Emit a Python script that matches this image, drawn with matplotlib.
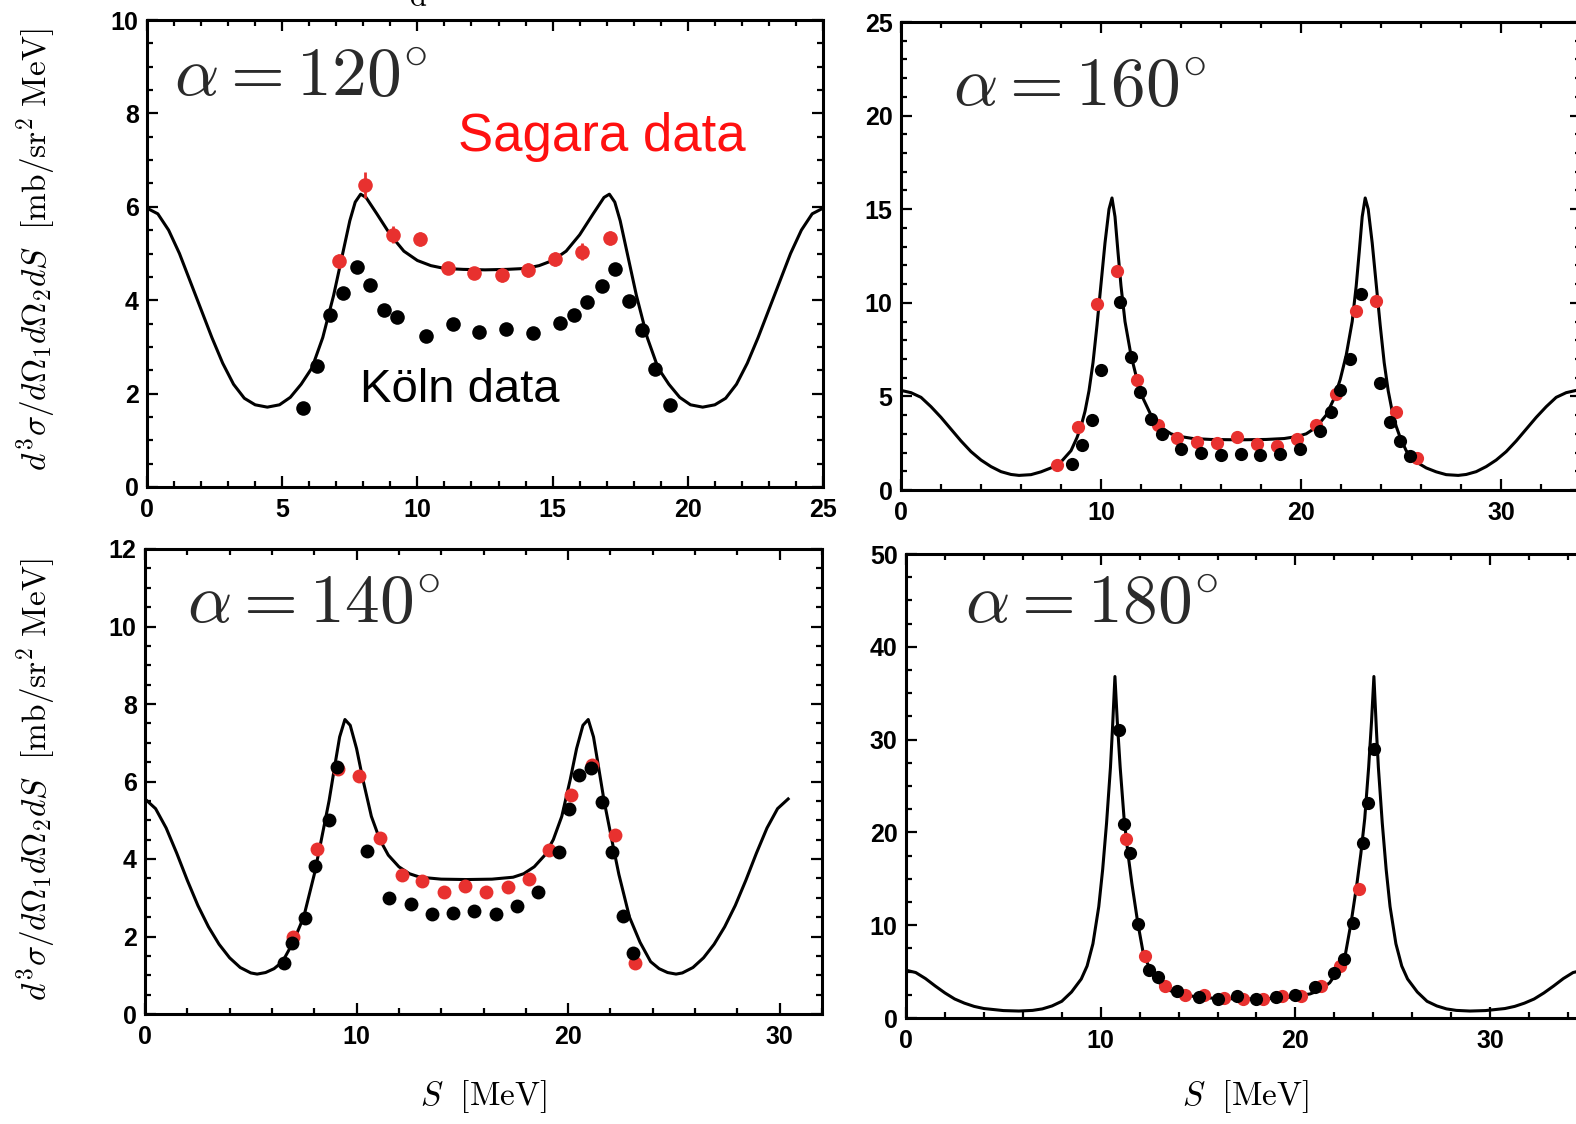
import matplotlib
matplotlib.use("Agg")
import matplotlib.pyplot as plt
from matplotlib.ticker import MultipleLocator

plt.rcParams['mathtext.fontset'] = 'cm'
plt.rcParams['font.family'] = ['Liberation Sans', 'DejaVu Sans']

RED = '#e8312f'

# ---- alpha = 120 deg ----
th120_s = [0.0, 0.4, 0.8, 1.2, 1.6, 2.0, 2.4, 2.8, 3.2, 3.6, 4.0, 4.45, 4.9, 5.3, 5.7, 6.1,
           6.5, 6.9, 7.2, 7.5, 7.7, 7.9, 8.1, 8.5, 9.0, 9.5, 10.0, 10.5, 11.0, 11.7, 12.5,
           13.3, 14.0, 14.5, 15.0, 15.5, 16.0, 16.5, 16.9, 17.1, 17.3, 17.5, 17.8, 18.1,
           18.5, 18.9, 19.3, 19.7, 20.1, 20.55, 21.0, 21.4, 21.8, 22.2, 22.6, 23.0, 23.4,
           23.8, 24.2, 24.6, 25.0]
th120_y = [5.97, 5.85, 5.5, 5.0, 4.4, 3.8, 3.2, 2.65, 2.2, 1.9, 1.76, 1.71, 1.76, 1.92, 2.2,
           2.55, 3.2, 4.1, 4.9, 5.7, 6.1, 6.27, 6.2, 5.85, 5.4, 5.05, 4.85, 4.74, 4.68, 4.66,
           4.65, 4.66, 4.68, 4.74, 4.85, 5.05, 5.4, 5.85, 6.2, 6.27, 6.1, 5.7, 4.9, 4.1, 3.2,
           2.55, 2.2, 1.92, 1.76, 1.71, 1.76, 1.9, 2.2, 2.65, 3.2, 3.8, 4.4, 5.0, 5.5, 5.85,
           5.97]
koln120_s = [5.78, 6.27, 6.77, 7.26, 7.75, 8.24, 8.77, 9.26, 10.30, 11.31, 12.27, 13.28,
             14.29, 15.27, 15.80, 16.29, 16.81, 17.32, 17.82, 18.31, 18.80, 19.33]
koln120_y = [1.70, 2.59, 3.69, 4.15, 4.71, 4.33, 3.78, 3.64, 3.23, 3.49, 3.32, 3.39,
             3.30, 3.51, 3.68, 3.96, 4.31, 4.67, 3.98, 3.37, 2.52, 1.75]
sag120_s = [7.09, 8.08, 9.10, 10.08, 11.12, 12.10, 13.12, 14.10, 15.09, 16.09, 17.11]
sag120_y = [4.83, 6.46, 5.40, 5.31, 4.69, 4.58, 4.55, 4.64, 4.88, 5.04, 5.34]
sag120_e = [0.15, 0.28, 0.18, 0.15, 0.12, 0.12, 0.15, 0.15, 0.15, 0.18, 0.15]

# ---- alpha = 160 deg ----
th160_s = [0.0, 0.5, 1.0, 1.5, 2.0, 2.5, 3.0, 3.5, 4.0, 4.5, 5.0, 5.5, 5.9, 6.5, 7.0, 7.5,
           8.0, 8.5, 8.8, 9.0, 9.2, 9.4, 9.6, 9.8, 10.0, 10.2, 10.4, 10.55, 10.7, 10.85,
           11.0, 11.2, 11.5, 11.8, 12.1, 12.5, 13.0, 13.5, 14.0, 14.6, 15.5, 16.88, 18.26,
           19.16, 19.76, 20.26, 20.76, 21.26, 21.66, 21.96, 22.26, 22.56, 22.76, 22.91,
           23.06, 23.21, 23.36, 23.56, 23.76, 23.96, 24.16, 24.36, 24.56, 24.76, 24.96,
           25.26, 25.76, 26.26, 26.76, 27.26, 27.86, 28.26, 28.76, 29.26, 29.76, 30.26,
           30.76, 31.26, 31.76, 32.26, 32.76, 33.26, 33.76, 34.1]
th160_y = [5.32, 5.2, 4.95, 4.45, 3.88, 3.25, 2.62, 2.05, 1.6, 1.25, 0.98, 0.83, 0.78, 0.82,
           0.97, 1.18, 1.5, 2.1, 2.8, 3.4, 4.2, 5.3, 6.8, 8.8, 11.0, 13.2, 15.0, 15.6, 14.6,
           12.7, 10.9, 9.0, 7.2, 5.9, 4.9, 4.0, 3.35, 3.0, 2.85, 2.75, 2.7, 2.68, 2.7, 2.75,
           2.85, 3.0, 3.35, 4.0, 4.9, 5.9, 7.2, 9.0, 10.9, 12.7, 14.6, 15.6, 15.0, 13.2,
           11.0, 8.8, 6.8, 5.3, 4.2, 3.4, 2.8, 2.1, 1.5, 1.18, 0.97, 0.82, 0.78, 0.83, 0.98,
           1.25, 1.6, 2.05, 2.62, 3.25, 3.88, 4.45, 4.95, 5.2, 5.32, 5.3]
koln160_s = [8.53, 9.05, 9.53, 10.0, 10.97, 11.49, 11.97, 12.51, 13.03, 13.98, 14.98,
             15.99, 16.99, 17.96, 18.96, 19.95, 20.97, 21.49, 21.97, 22.46, 22.99, 23.93,
             24.45, 24.95, 25.47]
koln160_y = [1.39, 2.40, 3.74, 6.41, 10.02, 7.13, 5.23, 3.79, 2.98, 2.17, 1.99, 1.86,
             1.90, 1.86, 1.90, 2.20, 3.16, 4.15, 5.32, 6.99, 10.47, 5.72, 3.61, 2.62, 1.81]
sag160_s = [7.82, 8.84, 9.79, 10.81, 11.80, 12.84, 13.82, 14.81, 15.81, 16.80, 17.80,
            18.79, 19.79, 20.73, 21.75, 22.75, 23.77, 24.76, 25.78]
sag160_y = [1.35, 3.38, 9.93, 11.68, 5.90, 3.48, 2.80, 2.58, 2.53, 2.83, 2.47, 2.35,
            2.71, 3.48, 5.11, 9.57, 10.11, 4.15, 1.71]

# ---- alpha = 140 deg ----
th140_s = [0.0, 0.5, 1.0, 1.5, 2.0, 2.5, 3.0, 3.5, 4.0, 4.5, 5.0, 5.3, 5.7, 6.1, 6.5, 7.0,
           7.5, 8.0, 8.3, 8.7, 9.0, 9.2, 9.45, 9.7, 10.0, 10.3, 10.7, 11.1, 11.5, 12.0,
           12.5, 13.0, 14.0, 15.2, 16.4, 17.4, 17.9, 18.4, 18.9, 19.3, 19.7, 20.1, 20.4,
           20.7, 20.95, 21.2, 21.4, 21.7, 22.1, 22.4, 22.9, 23.4, 23.9, 24.3, 24.7, 25.1,
           25.4, 25.9, 26.4, 26.9, 27.4, 27.9, 28.4, 28.9, 29.4, 29.9, 30.4]
th140_y = [5.55, 5.3, 4.8, 4.15, 3.45, 2.8, 2.25, 1.8, 1.45, 1.2, 1.06, 1.03, 1.07, 1.17,
           1.35, 1.85, 2.5, 3.6, 4.4, 5.5, 6.5, 7.15, 7.6, 7.45, 6.85, 6.05, 5.1, 4.5, 4.1,
           3.8, 3.62, 3.53, 3.48, 3.47, 3.48, 3.53, 3.62, 3.8, 4.1, 4.5, 5.1, 6.05, 6.85,
           7.45, 7.6, 7.15, 6.5, 5.5, 4.4, 3.6, 2.5, 1.85, 1.35, 1.17, 1.07, 1.03, 1.06,
           1.2, 1.45, 1.8, 2.25, 2.8, 3.45, 4.15, 4.8, 5.3, 5.55]
koln140_s = [6.58, 6.93, 7.54, 8.04, 8.68, 9.06, 10.50, 11.54, 12.55, 13.56, 14.57, 15.56,
             16.57, 17.58, 18.59, 19.55, 20.06, 20.52, 21.07, 21.58, 22.08, 22.59, 23.05]
koln140_y = [1.31, 1.84, 2.48, 3.83, 5.00, 6.38, 4.20, 3.00, 2.83, 2.58, 2.61, 2.65,
             2.58, 2.78, 3.14, 4.18, 5.28, 6.18, 6.34, 5.48, 4.17, 2.53, 1.57]
sag140_s = [6.98, 8.12, 9.10, 10.12, 11.13, 12.14, 13.10, 14.12, 15.13, 16.14, 17.15,
            18.16, 19.10, 20.14, 21.12, 22.21, 23.15]
sag140_y = [1.99, 4.25, 6.31, 6.14, 4.54, 3.58, 3.42, 3.14, 3.30, 3.14, 3.27, 3.48,
            4.22, 5.65, 6.43, 4.62, 1.32]

# ---- alpha = 180 deg ----
th180_s = [0.0, 0.5, 1.0, 1.5, 2.0, 2.5, 3.0, 3.5, 4.0, 5.0, 5.8, 6.5, 7.0, 7.5, 8.0, 8.5,
           9.0, 9.3, 9.6, 9.9, 10.1, 10.3, 10.5, 10.6, 10.73, 10.85, 11.0, 11.2, 11.4,
           11.6, 11.9, 12.2, 12.6, 13.0, 13.5, 14.0, 15.0, 16.0, 17.38, 18.76, 19.76,
           20.76, 21.26, 21.76, 22.16, 22.56, 22.86, 23.16, 23.36, 23.56, 23.76, 23.91,
           24.03, 24.16, 24.26, 24.46, 24.66, 24.86, 25.16, 25.46, 25.76, 26.26, 26.76,
           27.26, 27.76, 28.26, 28.96, 29.76, 30.76, 31.26, 31.76, 32.26, 32.76, 33.26,
           33.76, 34.26, 34.76]
th180_y = [5.15, 4.9, 4.25, 3.45, 2.7, 2.05, 1.6, 1.25, 1.02, 0.8, 0.75, 0.82, 0.98, 1.3,
           1.8, 2.8, 4.2, 5.6, 8.0, 12.0, 16.0, 21.0, 27.0, 31.0, 36.8, 32.0, 27.0, 21.5,
           17.7, 14.5, 10.3, 6.8, 5.0, 3.8, 3.0, 2.6, 2.25, 2.1, 2.05, 2.1, 2.25, 2.6, 3.0,
           3.8, 5.0, 6.8, 10.3, 14.5, 17.7, 21.5, 27.0, 32.0, 36.8, 31.0, 27.0, 21.0, 16.0,
           12.0, 8.0, 5.6, 4.2, 2.8, 1.8, 1.3, 0.98, 0.82, 0.75, 0.8, 1.02, 1.25, 1.6,
           2.05, 2.7, 3.45, 4.25, 4.9, 5.15]
koln180_s = [10.95, 11.20, 11.49, 11.93, 12.47, 12.96, 13.94, 15.04, 16.01, 16.99, 17.97,
             19.02, 20.00, 21.03, 21.96, 22.49, 22.98, 23.47, 23.72, 24.01]
koln180_y = [31.0, 20.95, 17.8, 10.15, 5.22, 4.40, 2.88, 2.26, 2.05, 2.34, 2.05, 2.26,
             2.47, 3.29, 4.81, 6.37, 10.27, 18.9, 23.2, 29.0]
sag180_s = [11.30, 12.30, 13.28, 14.35, 15.33, 16.31, 17.31, 18.34, 19.32, 20.29, 21.32,
            22.30, 23.28]
sag180_y = [19.3, 6.66, 3.49, 2.47, 2.47, 2.18, 2.05, 2.05, 2.34, 2.34, 3.41, 5.55, 13.85]

W, H = 1576, 1124
fig = plt.figure(figsize=(W / 100, H / 100), dpi=100)


def panel(left, top, right, bottom, xlim, ylim, xmaj, xmin, ymaj, ymin):
    ax = fig.add_axes([left / W, 1 - bottom / H, (right - left) / W, (bottom - top) / H])
    ax.set_xlim(*xlim)
    ax.set_ylim(*ylim)
    ax.xaxis.set_major_locator(MultipleLocator(xmaj))
    ax.xaxis.set_minor_locator(MultipleLocator(xmin))
    ax.yaxis.set_major_locator(MultipleLocator(ymaj))
    ax.yaxis.set_minor_locator(MultipleLocator(ymin))
    ax.tick_params(which='both', direction='in', top=True, right=True, width=1.6)
    ax.tick_params(which='major', length=8, labelsize=18)
    ax.tick_params(which='minor', length=4)
    ax.tick_params(axis='x', pad=8)
    ax.tick_params(axis='y', pad=6)
    for lbl in ax.get_xticklabels() + ax.get_yticklabels():
        lbl.set_fontweight('bold')
    for sp in ax.spines.values():
        sp.set_linewidth(2.2)
    return ax


def draw(ax, th_s, th_y, k_s, k_y, s_s, s_y, ms, s_err=None):
    ax.plot(th_s, th_y, color='black', lw=2.2, solid_joinstyle='round', zorder=2)
    if s_err is not None:
        ax.errorbar(s_s, s_y, yerr=s_err, fmt='o', color=RED, ms=ms, mew=0,
                    elinewidth=2, capsize=0, zorder=3)
    else:
        ax.plot(s_s, s_y, 'o', color=RED, ms=ms, mew=0, zorder=3)
    ax.plot(k_s, k_y, 'o', color='black', ms=ms, mew=0, zorder=4)


ax1 = panel(147, 20, 823, 487, (0, 25), (0, 10), 5, 1, 2, 0.5)
draw(ax1, th120_s, th120_y, koln120_s, koln120_y, sag120_s, sag120_y, 10.5, sag120_e)
ax1.text(0.04, 0.875, r'$\alpha = 120^{\circ}$', transform=ax1.transAxes,
         fontsize=50, va='center', ha='left', color='#2a2a2a')
ax1.text(0.46, 0.75, 'Sagara data', transform=ax1.transAxes, fontsize=38,
         color='#ff1010', va='center', ha='left')
ax1.text(0.315, 0.208, 'Köln data', transform=ax1.transAxes, fontsize=34,
         color='black', va='center', ha='left')

ax2 = panel(901, 22, 1581, 490, (0, 34), (0, 25), 10, 2, 5, 1)
draw(ax2, th160_s, th160_y, koln160_s, koln160_y, sag160_s, sag160_y, 9.5)
ax2.text(0.077, 0.86, r'$\alpha = 160^{\circ}$', transform=ax2.transAxes,
         fontsize=50, va='center', ha='left', color='#2a2a2a')

ax3 = panel(145, 549, 822, 1014, (0, 32), (0, 12), 10, 2, 2, 0.5)
draw(ax3, th140_s, th140_y, koln140_s, koln140_y, sag140_s, sag140_y, 10)
ax3.text(0.062, 0.88, r'$\alpha = 140^{\circ}$', transform=ax3.transAxes,
         fontsize=50, va='center', ha='left', color='#2a2a2a')

ax4 = panel(906, 554, 1587.5, 1018, (0, 35), (0, 50), 10, 2, 10, 2.5)
draw(ax4, th180_s, th180_y, koln180_s, koln180_y, sag180_s, sag180_y, 9.5)
ax4.text(0.087, 0.89, r'$\alpha = 180^{\circ}$', transform=ax4.transAxes,
         fontsize=50, va='center', ha='left', color='#2a2a2a')

ylab = r'$d^3\sigma/d\Omega_1 d\Omega_2 dS\ \ [\mathrm{mb/sr^2\ MeV}]$'
fig.text(36 / W, 1 - 250 / H, ylab, rotation=90, ha='center', va='center', fontsize=24)
fig.text(36 / W, 1 - 780 / H, ylab, rotation=90, ha='center', va='center', fontsize=24)
fig.text(483 / W, 1 - 1097 / H, r'$S\ \ [\mathrm{MeV}]$', ha='center', va='center', fontsize=24)
fig.text(1245 / W, 1 - 1097 / H, r'$S\ \ [\mathrm{MeV}]$', ha='center', va='center', fontsize=24)
# subscript of a title that is cut off at the top edge in the original
fig.text(418 / W, 1 - 6 / H, r'$\mathrm{d}$', ha='center', va='baseline', fontsize=22)

fig.savefig('out.png', dpi=100)
